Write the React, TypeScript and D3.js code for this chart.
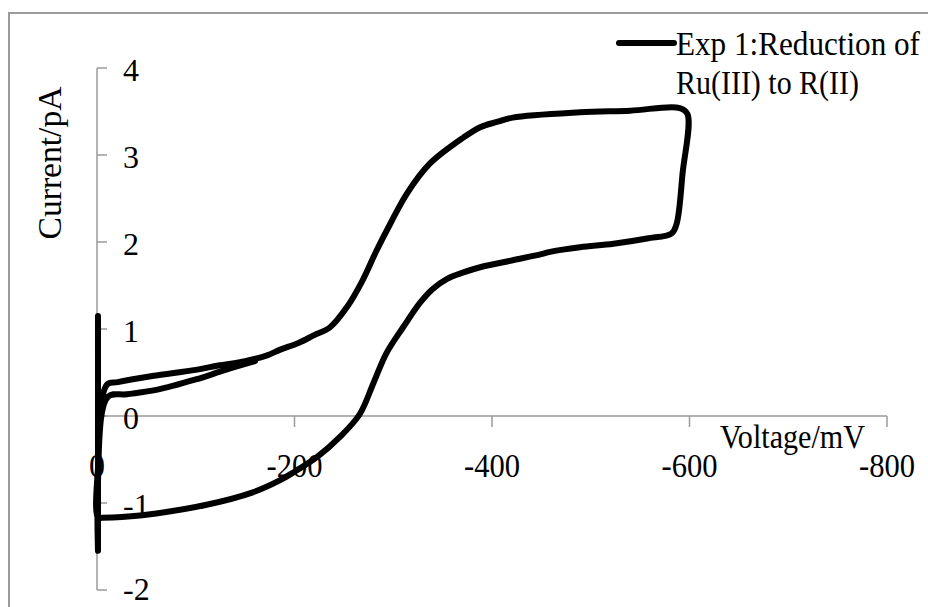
import React from "react";
import * as d3 from "d3";

// Cyclic voltammogram: voltage (mV) and current (pA), in scan order
const voltage: number[] = [
  -1, -1, -1, -10, -21, -56, -100, -123, -150, -173, -185, -204, -220, -236, -253, -269, -283, -297,
  -314, -337, -371, -388, -405, -421, -489, -540, -590, -598, -593, -587, -582,
  -557, -523, -489, -460, -450, -421, -388, -371, -355, -340, -327, -310, -293, -280, -266, -246, -223,
  -200, -185, -157, -111, -60, -25, -5, -1, -1, -11, -30, -60, -100, -130, -160,
];
const current: number[] = [
  1.15, -1.55, -0.75, 0.36, 0.39, 0.46, 0.53, 0.58, 0.63, 0.7, 0.76, 0.84, 0.93, 1.02, 1.25, 1.56, 1.9, 2.21,
  2.56, 2.9, 3.2, 3.32, 3.38, 3.43, 3.49, 3.51, 3.54, 3.47, 2.79, 2.21, 2.1,
  2.04, 1.98, 1.94, 1.89, 1.86, 1.79, 1.71, 1.65, 1.58, 1.46, 1.3, 1.02, 0.72, 0.38, 0.02, -0.24, -0.47,
  -0.64, -0.74, -0.88, -1.02, -1.12, -1.16, -1.17, -1.17, -0.6, 0.22, 0.25, 0.3, 0.42, 0.53, 0.63,
];

const xTicks: number[] = [0, -200, -400, -600, -800];
const yTicks: number[] = [-2, -1, 0, 1, 2, 3, 4];
const xTickLabels: string[] = ["0", "-200", "-400", "-600", "-800"];
const yTickLabels: string[] = ["-2", "-1", "0", "1", "2", "3", "4"];

const seriesName1 = "Exp 1:Reduction of";
const seriesName2 = "Ru(III) to R(II)";
const xTitle = "Voltage/mV";
const yTitle = "Current/pA";

export default function App() {
  const W = 928;
  const H = 607;
  const x = d3.scaleLinear().domain([0, -800]).range([97, 887]);
  const y = d3.scaleLinear().domain([-2, 4]).range([590, 68]);
  const pts: [number, number][] = voltage.map((v, i) => [v, current[i]]);
  const line = d3
    .line<[number, number]>()
    .x((d) => x(d[0]))
    .y((d) => y(d[1]))
    .curve(d3.curveCatmullRom.alpha(0.5));
  const axisColor = "#9a9a9a";
  const font = "'Liberation Serif', 'Times New Roman', serif";
  const widths: Record<string, number> = { "0": 16, "-200": 56, "-400": 56, "-600": 56, "-800": 56 };
  return (
    <svg
      width={W}
      height={H}
      style={{ position: "absolute", left: 0, top: 0, background: "#fff" }}
      fontFamily={font}
    >
      <rect x={0} y={0} width={W} height={H} fill="#fff" />
      <rect x={9} y={13} width={W + 20} height={H + 20} fill="none" stroke={axisColor} strokeWidth={2} />
      {/* x axis */}
      <line x1={x(0)} x2={x(-800)} y1={y(0)} y2={y(0)} stroke={axisColor} strokeWidth={1.5} />
      {xTicks.map((t) => (
        <line key={"xt" + t} x1={x(t)} x2={x(t)} y1={y(0)} y2={y(0) + 11} stroke={axisColor} strokeWidth={1.5} />
      ))}
      {xTicks.map((t, i) => (
        <text
          key={"xl" + t}
          x={x(t)}
          y={y(0) + 61}
          textAnchor="middle"
          fontSize={33}
          fill="#000"
          textLength={widths[xTickLabels[i]]}
          lengthAdjust="spacingAndGlyphs"
        >
          {xTickLabels[i]}
        </text>
      ))}
      {/* y axis */}
      <line x1={x(0)} x2={x(0)} y1={y(-2)} y2={y(4)} stroke={axisColor} strokeWidth={1.5} />
      {yTicks.map((t) => (
        <line key={"yt" + t} x1={x(0)} x2={x(0) + 10} y1={y(t)} y2={y(t)} stroke={axisColor} strokeWidth={1.5} />
      ))}
      {yTicks.map((t, i) => (
        <text key={"yl" + t} x={123} y={Math.min(y(t) + 13, 600)} textAnchor="start" fontSize={32} fill="#000">
          {yTickLabels[i]}
        </text>
      ))}
      {/* titles */}
      <text
        x={720}
        y={448}
        fontSize={33}
        fill="#000"
        textLength={145}
        lengthAdjust="spacingAndGlyphs"
      >
        {xTitle}
      </text>
      <text
        transform="translate(61,163) rotate(-90)"
        textAnchor="middle"
        fontSize={33}
        fill="#000"
        textLength={153}
        lengthAdjust="spacingAndGlyphs"
      >
        {yTitle}
      </text>
      {/* data */}
      <path d={line(pts) || ""} fill="none" stroke="#000" strokeWidth={6} strokeLinejoin="round" strokeLinecap="round" />
      {/* legend */}
      <line x1={619} x2={674} y1={43} y2={43} stroke="#000" strokeWidth={6} strokeLinecap="round" />
      <text x={676} y={55} fontSize={33} fill="#000" textLength={244} lengthAdjust="spacingAndGlyphs">
        {seriesName1}
      </text>
      <text x={676} y={94} fontSize={33} fill="#000" textLength={183} lengthAdjust="spacingAndGlyphs">
        {seriesName2}
      </text>
    </svg>
  );
}
